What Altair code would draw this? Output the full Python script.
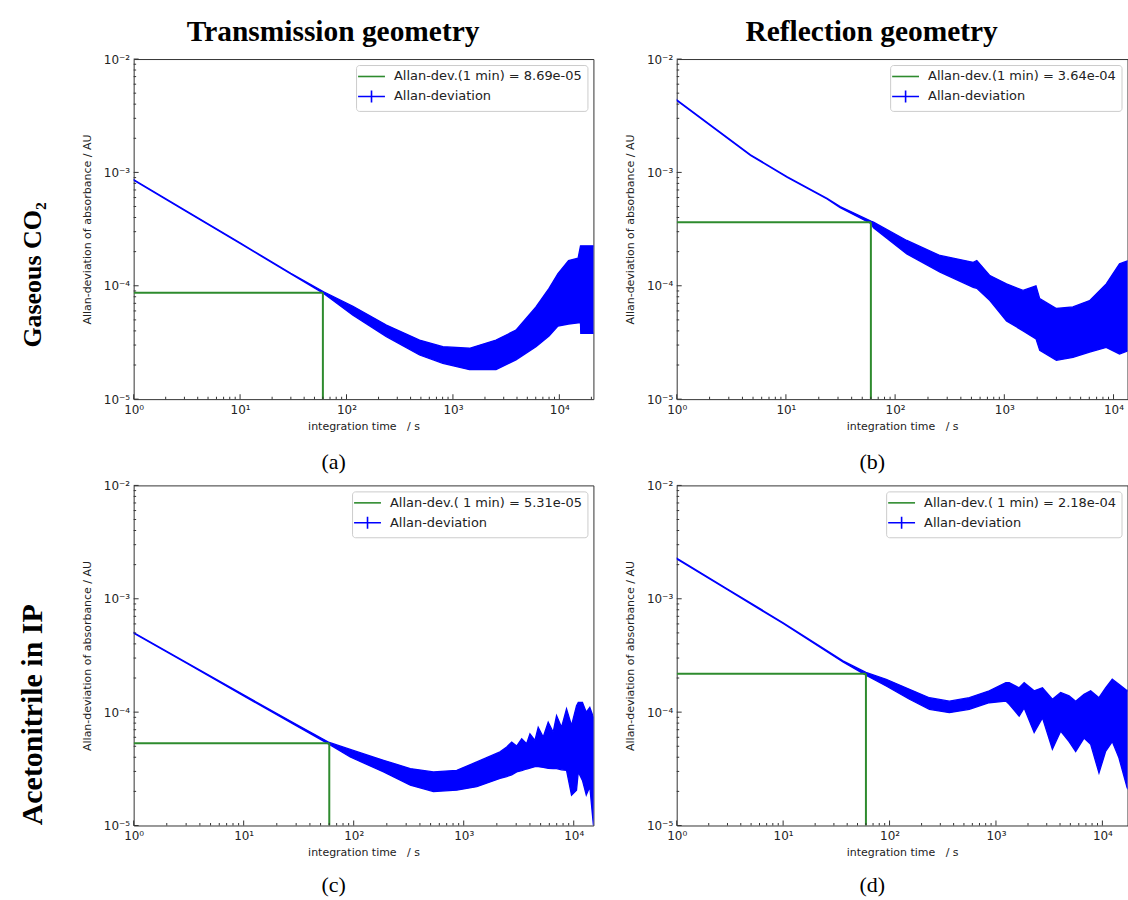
import altair as alt
import pandas as pd

BLUE = "#0000ff"
GREEN = "#2e8b2e"
FRAME = "#333333"
INK = "#222222"
SANS = "DejaVu Sans"
SERIF = "Liberation Serif"

W_LEFT, W_RIGHT, H = 461, 452, 341

# ---------------- values ----------------
# (a) Transmission / gaseous CO2
A_T  = [1, 3, 10, 30, 61, 115, 237, 486, 804, 1430, 2540, 3910, 6030, 8000, 9700, 12200, 15000, 15800, 15900, 22000]
A_LO = [8.55e-4, 4.62e-4, 2.36e-4, 1.27e-4, 8.55e-5, 5.5e-5, 3.56e-5, 2.45e-5, 2.07e-5, 1.82e-5, 1.82e-5, 2.22e-5,
        2.9e-5, 3.6e-5, 4.4e-5, 4.6e-5, 4.7e-5, 4.7e-5, 3.8e-5, 3.8e-5]
A_HI = [8.65e-4, 4.68e-4, 2.39e-4, 1.29e-4, 8.85e-5, 6.6e-5, 4.5e-5, 3.32e-5, 2.9e-5, 2.81e-5, 3.32e-5, 4.06e-5,
        6.5e-5, 9.5e-5, 1.28e-4, 1.67e-4, 1.75e-4, 2.25e-4, 2.25e-4, 2.25e-4]
A_DEV = 8.69e-05
A_LABEL = "Allan-dev.(1 min) = 8.69e-05"

# (b) Reflection / gaseous CO2
B_T  = [1, 4.74, 10.3, 23.8, 31.4, 60, 63.4, 128, 258, 519, 560, 738, 1047, 1485, 1950, 2110,
        3000, 4250, 6040, 8580, 11350, 16500]
B_LO = [4.31e-3, 1.41e-3, 9.05e-4, 5.82e-4, 4.88e-4, 3.55e-4, 3.25e-4, 1.91e-4, 1.32e-4, 9.7e-5,
        9.5e-5, 7.4e-5, 4.9e-5, 4.0e-5, 3.4e-5, 2.7e-5, 2.2e-5, 2.33e-5, 2.6e-5, 2.86e-5, 2.5e-5, 2.86e-5]
B_HI = [4.37e-3, 1.43e-3, 9.15e-4, 5.9e-4, 5.0e-4, 3.72e-4, 3.64e-4, 2.51e-4, 1.85e-4, 1.61e-4,
        1.67e-4, 1.23e-4, 1.04e-4, 9.1e-5, 1.0e-4, 7.7e-5, 6.3e-5, 6.5e-5, 7.4e-5, 1.04e-4, 1.56e-4, 1.79e-4]
B_DEV = 3.64e-04
B_LABEL = "Allan-dev.(1 min) = 3.64e-04"

# (c) Transmission / acetonitrile in IP
C_T  = [1, 3, 10, 30, 60, 93, 187, 327, 531, 865, 1315, 2138, 2460, 2730, 3030, 3365, 3730, 4000, 4440, 4755,
        5280, 5860, 6500, 6980, 7750, 8600, 9550, 10600, 11000, 12000, 13000, 14000, 15100]
C_LO = [4.97e-4, 2.71e-4, 1.39e-4, 7.6e-5, 5.2e-5, 4.02e-5, 2.97e-5, 2.27e-5, 1.99e-5, 2.05e-5, 2.2e-5, 2.6e-5,
        2.7e-5, 2.8e-5, 2.97e-5, 3.05e-5, 3.15e-5, 3.2e-5, 3.3e-5, 3.3e-5, 3.25e-5, 3.2e-5, 3.18e-5, 3.18e-5,
        3.1e-5, 3.07e-5, 1.85e-5, 2.05e-5, 2.97e-5, 2.5e-5, 1.86e-5, 2.2e-5, 1.0e-5]
C_HI = [5.03e-4, 2.75e-4, 1.42e-4, 7.8e-5, 5.4e-5, 4.69e-5, 3.76e-5, 3.18e-5, 2.97e-5, 3.07e-5, 3.64e-5, 4.46e-5,
        4.92e-5, 5.45e-5, 5.02e-5, 5.82e-5, 5.26e-5, 6.44e-5, 5.62e-5, 7.36e-5, 6.03e-5, 8.15e-5, 6.67e-5,
        9.33e-5, 7.36e-5, 1.07e-4, 7.62e-5, 1.14e-4, 1.22e-4, 1.22e-4, 1.0e-4, 1.1e-4, 9.0e-5]
C_DEV = 5.31e-05
C_LABEL = "Allan-dev.( 1 min) = 5.31e-05"

# (d) Reflection / acetonitrile in IP
D_T  = [1, 3, 10, 36.5, 60, 93, 154, 237, 365, 562, 865, 1238, 1333, 1652, 1841, 2285, 2735, 3390, 4055, 4865,
        5610, 6720, 7760, 9290, 10720, 12380, 14300, 17100, 18270, 21000]
D_LO = [2.24e-3, 1.2e-3, 6.05e-4, 2.77e-4, 2.12e-4, 1.70e-4, 1.30e-4, 1.06e-4, 9.9e-5, 1.06e-4, 1.21e-4, 1.25e-4,
        1.17e-4, 9.2e-5, 1.09e-4, 6.6e-5, 8.9e-5, 4.7e-5, 6.8e-5, 5.5e-5, 4.5e-5, 5.9e-5, 5.2e-5, 2.9e-5,
        4.5e-5, 5.5e-5, 3.95e-5, 2.14e-5, 2.0e-5, 1.7e-5]
D_HI = [2.28e-3, 1.22e-3, 6.15e-4, 2.83e-4, 2.24e-4, 1.95e-4, 1.59e-4, 1.34e-4, 1.25e-4, 1.34e-4, 1.54e-4, 1.82e-4,
        1.82e-4, 1.64e-4, 1.82e-4, 1.54e-4, 1.64e-4, 1.30e-4, 1.49e-4, 1.39e-4, 1.25e-4, 1.44e-4, 1.54e-4, 1.34e-4,
        1.64e-4, 1.95e-4, 1.76e-4, 1.54e-4, 1.64e-4, 1.5e-4]
D_DEV = 2.18e-04
D_LABEL = "Allan-dev.( 1 min) = 2.18e-04"

SERIES_LABEL = "Allan-deviation"
ONE_MIN = 60

X_MAJOR = [1, 10, 100, 1000, 10000]
X_MINOR = [2, 3, 4, 5, 6, 7, 8, 9, 20, 30, 40, 50, 60, 70, 80, 90, 200, 300, 400, 500, 600, 700, 800, 900,
           2000, 3000, 4000, 5000, 6000, 7000, 8000, 9000, 20000]
Y_MAJOR = [1e-5, 1e-4, 1e-3, 1e-2]
Y_MINOR = [2e-5, 3e-5, 4e-5, 5e-5, 6e-5, 7e-5, 8e-5, 9e-5, 2e-4, 3e-4, 4e-4, 5e-4, 6e-4, 7e-4, 8e-4, 9e-4,
           2e-3, 3e-3, 4e-3, 5e-3, 6e-3, 7e-3, 8e-3, 9e-3]

X_TITLE = "integration time\u00a0\u00a0\u00a0/ s"
Y_TITLE = "Allan-deviation of absorbance / AU"

LEG_PATH_LINE = "M-2.45,0H2.45"
LEG_PATH_CROSS = "M-2.45,0H2.45M0,-1.1V1.1"


def text_layer(txt, x, y, size, weight="normal", angle=0):
    return alt.Chart(pd.DataFrame({"k": [0]})).mark_text(
        text=txt, font=SERIF, fontSize=size, fontWeight=weight, angle=angle,
        align="center", baseline="middle", color="black"
    ).encode(x=alt.value(x), y=alt.value(y))


def panel(t, lo, hi, dev, label, xmax, width, texts):
    xs = alt.Scale(type="log", domain=[1, xmax], nice=False)
    ys = alt.Scale(type="log", domain=[1e-5, 1e-2], nice=False)
    xax = alt.Axis(values=X_MAJOR, title=X_TITLE, ticks=False, domain=False, grid=False,
                   labelFlush=False, labelOverlap=False, labelPadding=5,
                   labelExpr="'10' + ['\u2070','\u00b9','\u00b2','\u00b3','\u2074','\u2075'][round(log(datum.value)/LN10)]",
                   labelFont=SANS, labelFontSize=12, labelColor=INK,
                   titleFont=SANS, titleFontSize=11, titleFontWeight="normal", titleColor=INK, titlePadding=5)
    yax = alt.Axis(values=Y_MAJOR, title=Y_TITLE, ticks=False, domain=False, grid=False,
                   labelFlush=False, labelOverlap=False, labelPadding=4,
                   labelExpr="'10\u207b' + ['\u2070','\u00b9','\u00b2','\u00b3','\u2074','\u2075'][round(-log(datum.value)/LN10)]",
                   labelFont=SANS, labelFontSize=12, labelColor=INK,
                   titleFont=SANS, titleFontSize=11, titleFontWeight="normal", titleColor=INK, titlePadding=11)

    def X(f):
        return alt.X(f, type="quantitative", scale=xs, axis=xax)

    def Y(f):
        return alt.Y(f, type="quantitative", scale=ys, axis=yax)

    band = alt.Chart(pd.DataFrame({"t": t, "lo": lo, "hi": hi})).mark_area(
        fill=BLUE, stroke=BLUE, strokeWidth=1.3, opacity=1, clip=True, interpolate="linear"
    ).encode(x=X("t"), y=Y("lo"), y2=alt.Y2("hi"))

    hrule = alt.Chart(pd.DataFrame({"x": [1], "x2": [ONE_MIN], "y": [dev]})).mark_rule(
        color=GREEN, strokeWidth=2, clip=True
    ).encode(x=X("x"), x2=alt.X2("x2"), y=Y("y"))
    vrule = alt.Chart(pd.DataFrame({"x": [ONE_MIN], "y": [1e-5], "y2": [dev]})).mark_rule(
        color=GREEN, strokeWidth=2, clip=True
    ).encode(x=X("x"), y=Y("y"), y2=alt.Y2("y2"))

    xminor = [v for v in X_MINOR if v <= xmax]
    xt1 = alt.Chart(pd.DataFrame({"v": X_MAJOR})).mark_tick(size=5, thickness=1, color=FRAME, opacity=1).encode(
        x=X("v"), y=alt.value(H - 2.5))
    xt2 = alt.Chart(pd.DataFrame({"v": xminor})).mark_tick(size=2.5, thickness=1, color=FRAME, opacity=1).encode(
        x=X("v"), y=alt.value(H - 1.25))
    yt1 = alt.Chart(pd.DataFrame({"v": Y_MAJOR})).mark_tick(size=5, thickness=1, color=FRAME, opacity=1).encode(
        y=Y("v"), x=alt.value(2.5))
    yt2 = alt.Chart(pd.DataFrame({"v": Y_MINOR})).mark_tick(size=2.5, thickness=1, color=FRAME, opacity=1).encode(
        y=Y("v"), x=alt.value(1.25))

    dom = [label, SERIES_LABEL]
    leg = alt.Legend(title=None, orient="top-right", offset=6, padding=5, symbolOffset=4, labelOffset=16,
                     rowPadding=3, fillColor="white", strokeColor="#cccccc", cornerRadius=3,
                     labelFont=SANS, labelFontSize=13, labelColor=INK, labelLimit=0,
                     symbolSize=121, symbolStrokeWidth=1.6)
    lpts = alt.Chart(pd.DataFrame({"series": dom, "x": [1, 1], "y": [1e-7, 1e-7]})).mark_point(
        filled=False, size=121, strokeWidth=1.6, opacity=1, clip=True
    ).encode(
        x=X("x"), y=Y("y"),
        color=alt.Color("series:N", scale=alt.Scale(domain=dom, range=[GREEN, BLUE]), legend=leg),
        shape=alt.Shape("series:N", scale=alt.Scale(domain=dom, range=[LEG_PATH_LINE, LEG_PATH_CROSS]), legend=leg),
    )

    layers = [band, hrule, vrule, xt1, xt2, yt1, yt2, lpts] + texts
    return alt.layer(*layers).properties(width=width, height=H)


pa = panel(A_T, A_LO, A_HI, A_DEV, A_LABEL, 20900, W_LEFT, [
    text_layer("Transmission geometry", 200, -27.5, 29.5, "bold"),
    text_layer("Gaseous CO\u2082", -100.5, 216.5, 26, "bold", 270),
    text_layer("(a)", 200.5, 404.5, 22),
])
pb = panel(B_T, B_LO, B_HI, B_DEV, B_LABEL, 13430, W_RIGHT, [
    text_layer("Reflection geometry", 195.5, -27.5, 29.5, "bold"),
    text_layer("(b)", 196, 404.5, 22),
])
pc = panel(C_T, C_LO, C_HI, C_DEV, C_LABEL, 15100, W_LEFT, [
    text_layer("Acetonitrile in IP", -100.5, 230, 30, "bold", 270),
    text_layer("(c)", 200.5, 401, 22),
])
pd_ = panel(D_T, D_LO, D_HI, D_DEV, D_LABEL, 17220, W_RIGHT, [
    text_layer("(d)", 196, 401, 22),
])

chart = alt.concat(
    pa, pb, pc, pd_, columns=2, spacing={"row": 86.5, "column": 83.5}, bounds="flush"
).resolve_scale(
    color="independent", shape="independent", x="independent", y="independent"
).properties(
    padding={"left": 18, "top": 15, "right": 0, "bottom": 0},
    background="white",
).configure_view(stroke=FRAME, strokeWidth=1)

chart.save("out.html", embed_options={"renderer": "svg", "actions": False})
